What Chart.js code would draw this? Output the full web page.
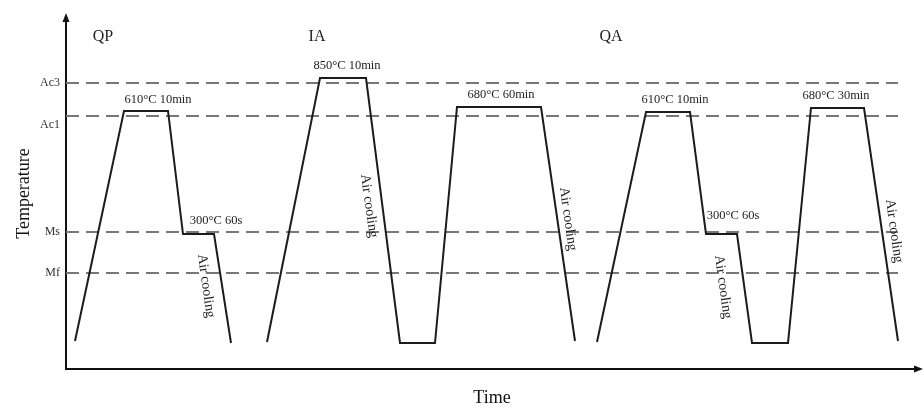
<!DOCTYPE html>
<html>
<head>
<meta charset="utf-8">
<script src="https://cdn.jsdelivr.net/npm/chart.js@4.4.1/dist/chart.umd.min.js"></script>
<style>
  html, body { margin: 0; padding: 0; background: #fff; }
  #wrap { width: 924px; height: 410px; }
</style>
</head>
<body>
<div id="wrap"><canvas id="chart" width="924" height="410"></canvas></div>
<script>
// Process curves (time / temperature in arbitrary chart units)
const qpTime = [9, 58, 102, 117, 148, 165];
const qpTemp = [28, 258, 258, 135, 135, 26];
const iaTime = [201, 254, 300, 334, 369, 391, 475, 509];
const iaTemp = [27, 291, 291, 26, 26, 262, 262, 28];
const qaTime = [531, 580, 624, 640, 671, 686, 722, 745, 798, 832];
const qaTemp = [27, 257, 257, 135, 135, 26, 26, 261, 261, 28];

// Critical temperatures (dashed lines)
const critTemp = [286, 253, 137, 96];
const critStart = 0;
const critEnd = 832;

// Temperature axis tick labels
const tickLabels = ["Ac3", "Ac1", "Ms", "Mf"];
const tickValues = [286, 244, 137, 96];

// Route headings
const headText = ["QP", "IA", "QA"];
const headTime = [37, 251, 545];
const headTemp = [332, 332, 332];

// Holding conditions
const holdText = ["610°C 10min", "300°C 60s", "850°C 10min", "680°C 60min", "610°C 10min", "300°C 60s", "680°C 30min"];
const holdTime = [92, 150, 281, 435, 609, 667, 770];
const holdTemp = [269, 148, 303, 274, 269, 153, 273];

// "Air cooling" notes along the cooling segments
const airTime = [140, 303, 502, 657, 828];
const airTemp = [83, 163, 150, 82, 138];

const serif = "'Liberation Serif', 'Times New Roman', serif";

function zip(xs, ys) {
  return xs.map((x, i) => ({ x: x, y: ys[i] }));
}

function curve(xs, ys) {
  return {
    data: zip(xs, ys),
    borderColor: "#1c1c1c",
    borderWidth: 2,
    pointRadius: 0,
    tension: 0,
    order: 0,
  };
}

function dashed(t) {
  return {
    data: [{ x: critStart, y: t }, { x: critEnd, y: t }],
    borderColor: "#777777",
    borderWidth: 2,
    borderDash: [13, 7],
    pointRadius: 0,
    order: 1,
  };
}

const extras = {
  id: "extras",
  afterDraw(chart) {
    const { ctx, chartArea } = chart;
    const xs = chart.scales.x;
    const ys = chart.scales.y;
    ctx.save();

    // axis arrows
    ctx.fillStyle = "#111";
    ctx.beginPath();
    ctx.moveTo(chartArea.left, chartArea.top - 5);
    ctx.lineTo(chartArea.left - 3.5, chartArea.top + 4);
    ctx.lineTo(chartArea.left + 3.5, chartArea.top + 4);
    ctx.closePath();
    ctx.fill();
    ctx.beginPath();
    ctx.moveTo(chartArea.right + 5, chartArea.bottom);
    ctx.lineTo(chartArea.right - 4, chartArea.bottom - 3.5);
    ctx.lineTo(chartArea.right - 4, chartArea.bottom + 3.5);
    ctx.closePath();
    ctx.fill();

    ctx.fillStyle = "#1e1e1e";
    ctx.textAlign = "center";
    ctx.textBaseline = "middle";

    ctx.font = "16px " + serif;
    headText.forEach((t, i) => {
      ctx.fillText(t, xs.getPixelForValue(headTime[i]), ys.getPixelForValue(headTemp[i]));
    });

    ctx.font = "12.5px " + serif;
    holdText.forEach((t, i) => {
      ctx.fillText(t, xs.getPixelForValue(holdTime[i]), ys.getPixelForValue(holdTemp[i]));
    });

    ctx.font = "14px " + serif;
    airTime.forEach((t, i) => {
      ctx.save();
      ctx.translate(xs.getPixelForValue(t), ys.getPixelForValue(airTemp[i]));
      ctx.rotate(82 * Math.PI / 180);
      ctx.fillText("Air cooling", 0, 0);
      ctx.restore();
    });

    ctx.restore();
  },
};

const chart = new Chart(document.getElementById("chart"), {
  type: "line",
  data: {
    datasets: [
      curve(qpTime, qpTemp),
      curve(iaTime, iaTemp),
      curve(qaTime, qaTemp),
      ...critTemp.map(dashed),
    ],
  },
  options: {
    responsive: false,
    animation: false,
    layout: { padding: { top: 18, right: 6, left: 0, bottom: 0 } },
    plugins: {
      legend: { display: false },
      tooltip: { enabled: false },
    },
    scales: {
      x: {
        type: "linear",
        min: 0,
        max: 852,
        grid: { display: false, drawTicks: false },
        border: { display: true, color: "#111", width: 2 },
        ticks: { display: false },
        title: {
          display: true,
          text: "Time",
          color: "#111",
          font: { family: serif, size: 18 },
          padding: { top: 0, bottom: 1 },
        },
        afterFit: (scale) => { scale.height = 41; },
      },
      y: {
        type: "linear",
        min: 0,
        max: 351,
        grid: { display: false, drawTicks: false },
        border: { display: true, color: "#111", width: 2 },
        afterBuildTicks: (scale) => {
          scale.ticks = tickValues.map((v) => ({ value: v }));
        },
        ticks: {
          padding: 6,
          color: "#333",
          font: { family: serif, size: 12 },
          callback: (value, index) => tickLabels[index],
        },
        title: {
          display: true,
          text: "Temperature",
          color: "#111",
          font: { family: serif, size: 18 },
          padding: { top: 13, bottom: 0 },
        },
        afterFit: (scale) => { scale.width = 66; },
      },
    },
  },
  plugins: [extras],
});
</script>
</body>
</html>
